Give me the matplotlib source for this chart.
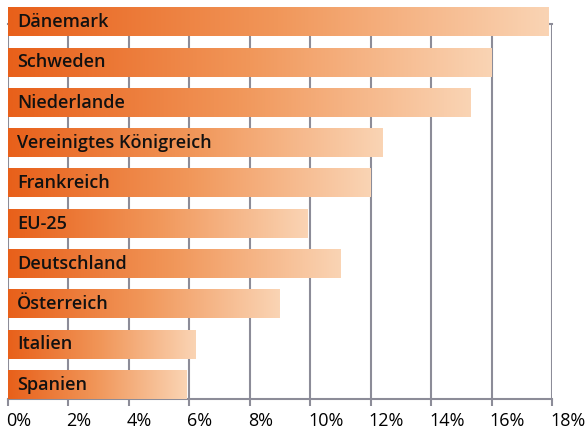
import numpy as np
import matplotlib
matplotlib.use("Agg")
import matplotlib.pyplot as plt
import matplotlib.transforms as mtransforms
from matplotlib.colors import LinearSegmentedColormap

# Werte von unten nach oben
laender = ["Spanien", "Italien", "Österreich", "Deutschland", "EU-25",
           "Frankreich", "Vereinigtes Königreich", "Niederlande", "Schweden", "Dänemark"]
werte = [5.9, 6.2, 9.0, 11.0, 9.9, 12.0, 12.4, 15.3, 16.0, 17.9]
ticks = [0, 2, 4, 6, 8, 10, 12, 14, 16, 18]

cmap = LinearSegmentedColormap.from_list("orange", ["#E8601A", "#F1975A", "#FAD4B4"])
grad = np.linspace(0, 1, 256).reshape(1, -1)

W, H = 587, 430
fig = plt.figure(figsize=(W / 100, H / 100), dpi=100)
ax = fig.add_axes([8 / W, 31 / H, 544 / W, 375 / H])

hoehe = 0.707
for i, (name, v) in enumerate(zip(laender, werte)):
    ax.imshow(grad, cmap=cmap, aspect="auto", extent=[0, v, i, i + hoehe],
              zorder=3, clip_on=False, interpolation="bilinear")
    ax.text(0.3, i + hoehe / 2, name, va="center", ha="left", fontsize=13,
            fontfamily="Open Sans", fontweight="semibold", color="#111111",
            zorder=4, clip_on=False)

ax.set_xlim(0, 18)
ax.set_ylim(0, 9.305)
ax.set_xticks(ticks)
ax.set_xticklabels([f"{t}%" for t in ticks], fontsize=13, fontfamily="Open Sans", ha="left")
ax.set_yticks([])
ax.grid(axis="x", color="#8C8C98", linewidth=1.5, zorder=1)
ax.set_axisbelow(True)

for s in ["left", "right"]:
    ax.spines[s].set_visible(False)
for s in ["top", "bottom"]:
    ax.spines[s].set_color("#8C8C98")
    ax.spines[s].set_linewidth(1.5)
ax.tick_params(axis="x", length=5, width=1.5, color="#8C8C98", pad=4)

# Beschriftungen leicht nach links schieben, wie im Original
versatz = mtransforms.ScaledTranslation(-2 / 100, 0, fig.dpi_scale_trans)
for lbl in ax.get_xticklabels():
    lbl.set_transform(lbl.get_transform() + versatz)

fig.savefig("out.png", dpi=100)
plt.close()
